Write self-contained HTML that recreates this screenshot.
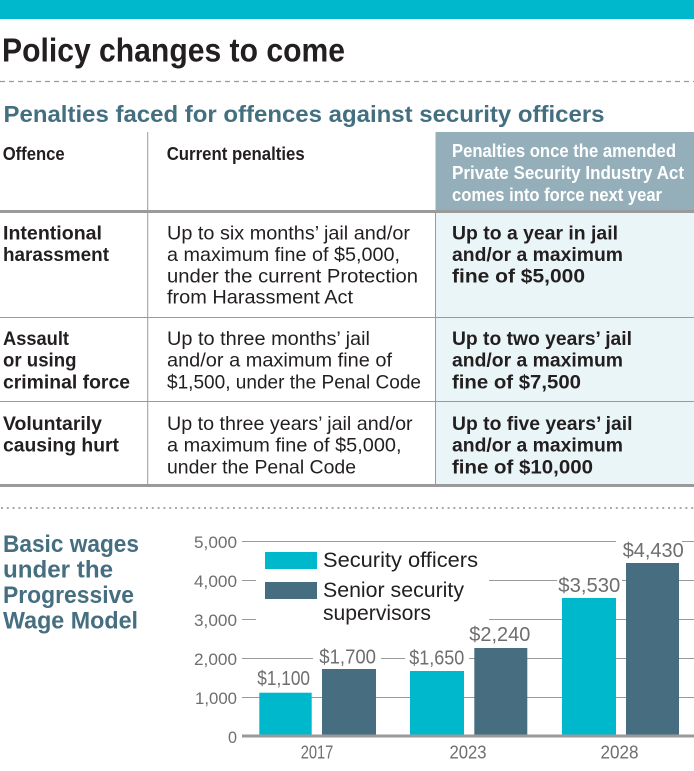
<!DOCTYPE html>
<html>
<head>
<meta charset="utf-8">
<style>
html,body{margin:0;padding:0;background:#fff;}
svg{display:block;}
text{font-family:"Liberation Sans",Arial,sans-serif;}
.b{font-weight:bold;}
</style>
</head>
<body>
<svg width="694" height="771" viewBox="0 0 694 771" xmlns="http://www.w3.org/2000/svg">
  <rect x="0" y="0" width="694" height="771" fill="#fff"/>
  <!-- top bar -->
  <rect x="0" y="0" width="694" height="19" fill="#00b8cc"/>
  <!-- title -->
  <text x="2" y="61.7" font-size="33" class="b" fill="#231f20" textLength="343" lengthAdjust="spacingAndGlyphs">Policy changes to come</text>
  <line x1="0" y1="81.5" x2="694" y2="81.5" stroke="#9a9a9a" stroke-width="1.2" stroke-dasharray="5,4"/>
  <!-- subtitle -->
  <text x="3.5" y="122" font-size="23.5" class="b" fill="#436f80" textLength="601" lengthAdjust="spacingAndGlyphs">Penalties faced for offences against security officers</text>

  <!-- table backgrounds -->
  <rect x="435.5" y="132" width="258.5" height="78" fill="#94afba"/>
  <rect x="435.5" y="213" width="258.5" height="272" fill="#e9f5f6"/>
  <!-- vertical dividers -->
  <line x1="147.7" y1="132" x2="147.7" y2="485" stroke="#9a9a9a" stroke-width="1"/>
  <line x1="435.5" y1="213" x2="435.5" y2="485" stroke="#9a9a9a" stroke-width="1"/>
  <!-- horizontal lines -->
  <rect x="0" y="210" width="694" height="3" fill="#9a9a9a"/>
  <line x1="0" y1="317.5" x2="694" y2="317.5" stroke="#9a9a9a" stroke-width="1"/>
  <line x1="0" y1="401.5" x2="694" y2="401.5" stroke="#9a9a9a" stroke-width="1"/>
  <rect x="0" y="484" width="694" height="3" fill="#9a9a9a"/>

  <!-- header text -->
  <text x="2.7" y="160" font-size="18" class="b" fill="#231f20" textLength="62" lengthAdjust="spacingAndGlyphs">Offence</text>
  <text x="166.7" y="160" font-size="18" class="b" fill="#231f20" textLength="138" lengthAdjust="spacingAndGlyphs">Current penalties</text>
  <text x="452" y="157" font-size="18.5" class="b" fill="#fff" textLength="224" lengthAdjust="spacingAndGlyphs">Penalties once the amended</text>
  <text x="452" y="179" font-size="18.5" class="b" fill="#fff" textLength="232" lengthAdjust="spacingAndGlyphs">Private Security Industry Act</text>
  <text x="452" y="201" font-size="18.5" class="b" fill="#fff" textLength="210" lengthAdjust="spacingAndGlyphs">comes into force next year</text>

  <!-- row 1 -->
  <g font-size="19.5" fill="#231f20">
    <text x="3" y="239.3" class="b" textLength="99" lengthAdjust="spacingAndGlyphs">Intentional</text>
    <text x="3" y="261" class="b" textLength="106" lengthAdjust="spacingAndGlyphs">harassment</text>
    <text x="167" y="239.3" textLength="243" lengthAdjust="spacingAndGlyphs">Up to six months’ jail and/or</text>
    <text x="167" y="261" textLength="233" lengthAdjust="spacingAndGlyphs">a maximum fine of $5,000,</text>
    <text x="167" y="282.3" textLength="251" lengthAdjust="spacingAndGlyphs">under the current Protection</text>
    <text x="167" y="303.3" textLength="186" lengthAdjust="spacingAndGlyphs">from Harassment Act</text>
    <text x="452" y="239.3" class="b" textLength="166" lengthAdjust="spacingAndGlyphs">Up to a year in jail</text>
    <text x="452" y="261" class="b" textLength="171" lengthAdjust="spacingAndGlyphs">and/or a maximum</text>
    <text x="452" y="282.3" class="b" textLength="133" lengthAdjust="spacingAndGlyphs">fine of $5,000</text>

    <!-- row 2 -->
    <text x="3" y="345" class="b" textLength="66" lengthAdjust="spacingAndGlyphs">Assault</text>
    <text x="3" y="366.7" class="b" textLength="73.5" lengthAdjust="spacingAndGlyphs">or using</text>
    <text x="3" y="388.3" class="b" textLength="127" lengthAdjust="spacingAndGlyphs">criminal force</text>
    <text x="167" y="345" textLength="203" lengthAdjust="spacingAndGlyphs">Up to three months’ jail</text>
    <text x="167" y="366.7" textLength="225" lengthAdjust="spacingAndGlyphs">and/or a maximum fine of</text>
    <text x="167" y="388.3" textLength="254" lengthAdjust="spacingAndGlyphs">$1,500, under the Penal Code</text>
    <text x="452" y="345" class="b" textLength="180" lengthAdjust="spacingAndGlyphs">Up to two years’ jail</text>
    <text x="452" y="366.7" class="b" textLength="171" lengthAdjust="spacingAndGlyphs">and/or a maximum</text>
    <text x="452" y="388.3" class="b" textLength="129" lengthAdjust="spacingAndGlyphs">fine of $7,500</text>

    <!-- row 3 -->
    <text x="3" y="430" class="b" textLength="99" lengthAdjust="spacingAndGlyphs">Voluntarily</text>
    <text x="3" y="451.7" class="b" textLength="116" lengthAdjust="spacingAndGlyphs">causing hurt</text>
    <text x="167" y="430" textLength="245.6" lengthAdjust="spacingAndGlyphs">Up to three years’ jail and/or</text>
    <text x="167" y="451.7" textLength="234.5" lengthAdjust="spacingAndGlyphs">a maximum fine of $5,000,</text>
    <text x="167" y="473.3" textLength="189" lengthAdjust="spacingAndGlyphs">under the Penal Code</text>
    <text x="452" y="430" class="b" textLength="180.5" lengthAdjust="spacingAndGlyphs">Up to five years’ jail</text>
    <text x="452" y="451.7" class="b" textLength="171" lengthAdjust="spacingAndGlyphs">and/or a maximum</text>
    <text x="452" y="473.3" class="b" textLength="141" lengthAdjust="spacingAndGlyphs">fine of $10,000</text>
  </g>

  <!-- dotted separator -->
  <line x1="1" y1="508" x2="694" y2="508" stroke="#aaa" stroke-width="2" stroke-dasharray="2,3.8"/>

  <!-- chart title -->
  <g font-size="24" class="b" fill="#456f80">
    <text x="3" y="552" textLength="136" lengthAdjust="spacingAndGlyphs">Basic wages</text>
    <text x="3" y="577.5" textLength="110" lengthAdjust="spacingAndGlyphs">under the</text>
    <text x="3" y="603" textLength="131" lengthAdjust="spacingAndGlyphs">Progressive</text>
    <text x="3" y="628.5" textLength="135" lengthAdjust="spacingAndGlyphs">Wage Model</text>
  </g>

  <!-- gridlines -->
  <g stroke="#9a9a9a" stroke-width="1">
    <line x1="242" y1="541.5" x2="694" y2="541.5"/>
    <line x1="242" y1="580.5" x2="694" y2="580.5"/>
    <line x1="242" y1="619.5" x2="694" y2="619.5"/>
    <line x1="242" y1="658.5" x2="694" y2="658.5"/>
    <line x1="242" y1="697.5" x2="694" y2="697.5"/>
  </g>
  <!-- legend background -->
  <rect x="256" y="545" width="233" height="94" fill="#fff"/>
  <!-- label backgrounds -->
  <rect x="313" y="645" width="68" height="22" fill="#fff"/>
  <rect x="405" y="645" width="64" height="22" fill="#fff"/>
  <rect x="557" y="574" width="65" height="21" fill="#fff"/>
  <rect x="616" y="536" width="66" height="23" fill="#fff"/>

  <!-- bars -->
  <rect x="259.3" y="692.7" width="52.4" height="43.3" fill="#00b8cc"/>
  <rect x="322" y="669" width="54" height="67" fill="#476e80"/>
  <rect x="410" y="671" width="54" height="65" fill="#00b8cc"/>
  <rect x="474.3" y="648" width="53" height="88" fill="#476e80"/>
  <rect x="562" y="598" width="54" height="138" fill="#00b8cc"/>
  <rect x="626" y="563" width="53" height="173" fill="#476e80"/>

  <!-- baseline -->
  <rect x="242" y="734.5" width="452" height="3" fill="#9a9a9a"/>

  <!-- y axis labels -->
  <g font-size="17" fill="#6d6e70" text-anchor="end">
    <text x="237" y="548" textLength="43" lengthAdjust="spacingAndGlyphs">5,000</text>
    <text x="237" y="587" textLength="43" lengthAdjust="spacingAndGlyphs">4,000</text>
    <text x="237" y="626" textLength="43" lengthAdjust="spacingAndGlyphs">3,000</text>
    <text x="237" y="665" textLength="43" lengthAdjust="spacingAndGlyphs">2,000</text>
    <text x="237" y="704" textLength="42" lengthAdjust="spacingAndGlyphs">1,000</text>
    <text x="237" y="743" textLength="9" lengthAdjust="spacingAndGlyphs">0</text>
  </g>

  <!-- value labels -->
  <g font-size="20" fill="#6d6e70">
    <text x="257.3" y="685" textLength="52.7" lengthAdjust="spacingAndGlyphs">$1,100</text>
    <text x="319.3" y="663.3" textLength="56.7" lengthAdjust="spacingAndGlyphs">$1,700</text>
    <text x="409.3" y="664.3" textLength="55" lengthAdjust="spacingAndGlyphs">$1,650</text>
    <text x="469.3" y="641" textLength="61" lengthAdjust="spacingAndGlyphs">$2,240</text>
    <text x="558.3" y="592" textLength="62" lengthAdjust="spacingAndGlyphs">$3,530</text>
    <text x="622.7" y="557" textLength="61" lengthAdjust="spacingAndGlyphs">$4,430</text>
  </g>

  <!-- year labels -->
  <g font-size="18" fill="#6d6e70" text-anchor="middle">
    <text x="317" y="758.3" textLength="32.6" lengthAdjust="spacingAndGlyphs">2017</text>
    <text x="468" y="758.3" textLength="37" lengthAdjust="spacingAndGlyphs">2023</text>
    <text x="619.5" y="758.3" textLength="38" lengthAdjust="spacingAndGlyphs">2028</text>
  </g>

  <!-- legend -->
  <rect x="265" y="552" width="52" height="17" fill="#00b8cc"/>
  <rect x="265" y="582" width="52" height="17" fill="#476e80"/>
  <g font-size="21" fill="#231f20">
    <text x="323" y="567" textLength="155" lengthAdjust="spacingAndGlyphs">Security officers</text>
    <text x="323" y="597" textLength="141" lengthAdjust="spacingAndGlyphs">Senior security</text>
    <text x="323" y="620" textLength="108" lengthAdjust="spacingAndGlyphs">supervisors</text>
  </g>
</svg>
</body>
</html>
